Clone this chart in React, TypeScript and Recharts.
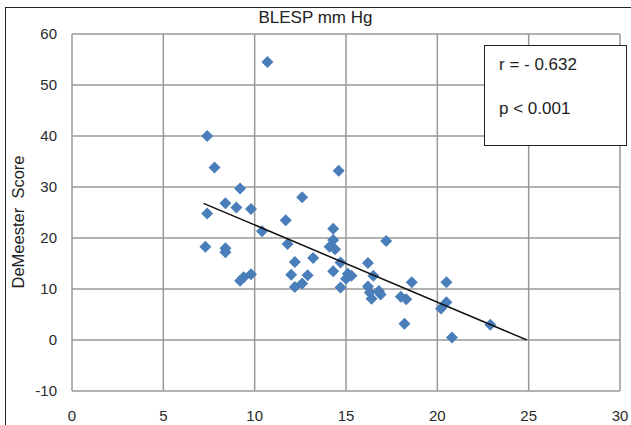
import { ScatterChart, Scatter, XAxis, YAxis, CartesianGrid } from "recharts";

const blespX = [
  10.7, 7.4, 7.8, 9.2, 8.4, 9.0, 9.8, 7.4, 10.4, 11.7, 12.6, 11.8, 7.3, 8.4,
  8.4, 12.2, 13.2, 9.2, 9.4, 9.8, 12.0, 12.9, 12.2, 12.6, 14.6, 14.3, 14.3,
  17.2, 14.1, 14.4, 14.7, 16.2, 14.3, 15.1, 15.3, 16.5, 15.0, 14.7, 16.2,
  18.6, 20.5, 16.3, 16.4, 16.8, 16.9, 18.0, 18.3, 18.2, 20.2, 20.5, 20.8, 22.9,
];
const demeester = [
  54.5, 40, 33.8, 29.7, 26.8, 26, 25.7, 24.8, 21.3, 23.5, 28, 18.8, 18.3, 18,
  17.2, 15.3, 16.1, 11.6, 12.3, 12.9, 12.8, 12.7, 10.4, 11.1, 33.2, 21.8, 19.6,
  19.4, 18.3, 17.8, 15.2, 15.1, 13.5, 13, 12.6, 12.6, 12, 10.3, 10.5, 11.3,
  11.3, 9.3, 8.1, 9.6, 8.9, 8.5, 8.0, 3.2, 6.2, 7.4, 0.5, 3.0,
];
const trendX = [7.2, 24.9];
const trendY = [26.8, 0];

const xTicks = [0, 5, 10, 15, 20, 25, 30];
const yTicks = [-10, 0, 10, 20, 30, 40, 50, 60];

const points = blespX.map((x, i) => ({ x, y: demeester[i] }));
const trend = trendX.map((x, i) => ({ x, y: trendY[i] }));

const font = "'Liberation Sans', Arial, sans-serif";
const tickStyle = { fill: "#2a2a2a", fontSize: 15, fontFamily: font };

function Diamond(props: any) {
  const { cx, cy } = props;
  const r = 6;
  return (
    <path
      d={`M${cx},${cy - r}L${cx + r},${cy}L${cx},${cy + r}L${cx - r},${cy}Z`}
      fill="#4a7ebb"
    />
  );
}

export default function App() {
  return (
    <div
      style={{
        position: "absolute",
        left: 0,
        top: 0,
        width: 631,
        height: 425,
        background: "#fff",
        overflow: "hidden",
        fontFamily: font,
      }}
    >
      {/* outer frame */}
      <div
        style={{
          position: "absolute",
          left: 5,
          top: 7,
          width: 640,
          height: 440,
          border: "1.5px solid #222",
        }}
      />
      <div
        style={{
          position: "absolute",
          left: 0,
          width: 631,
          top: 8,
          textAlign: "center",
          fontSize: 17,
          color: "#222",
        }}
      >
        BLESP mm Hg
      </div>
      <div
        style={{
          position: "absolute",
          left: 18,
          top: 222,
          transform: "translate(-50%, -50%) rotate(-90deg)",
          whiteSpace: "pre",
          fontSize: 16.5,
          color: "#222",
        }}
      >
        DeMeester  Score
      </div>
      <div style={{ position: "absolute", left: 0, top: 0 }}>
        <ScatterChart
          width={631}
          height={425}
          margin={{ top: 34, right: 11, bottom: 0, left: 0 }}
        >
          <CartesianGrid stroke="#999" strokeWidth={1.5} />
          <XAxis
            type="number"
            dataKey="x"
            domain={[0, 30]}
            ticks={xTicks}
            interval={0}
            height={34}
            axisLine={false}
            tickLine={false}
            tickSize={8}
            tickMargin={11}
            tick={tickStyle}
          />
          <YAxis
            type="number"
            dataKey="y"
            domain={[-10, 60]}
            ticks={yTicks}
            interval={0}
            width={72}
            axisLine={false}
            tickLine={false}
            tickSize={8}
            tickMargin={7}
            tick={tickStyle}
          />
          <Scatter
            data={points}
            shape={<Diamond />}
            isAnimationActive={false}
          />
          <Scatter
            data={trend}
            line={{ stroke: "#111", strokeWidth: 1.5 }}
            lineType="joint"
            shape={() => <g />}
            isAnimationActive={false}
          />
        </ScatterChart>
      </div>
      {/* stats box */}
      <div
        style={{
          position: "absolute",
          left: 484,
          top: 45,
          width: 141,
          height: 99,
          border: "1.5px solid #222",
          background: "#fff",
          fontSize: 17,
          color: "#222",
        }}
      >
        <div style={{ position: "absolute", left: 14, top: 9 }}>r = - 0.632</div>
        <div style={{ position: "absolute", left: 14, top: 53 }}>p &lt; 0.001</div>
      </div>
    </div>
  );
}
